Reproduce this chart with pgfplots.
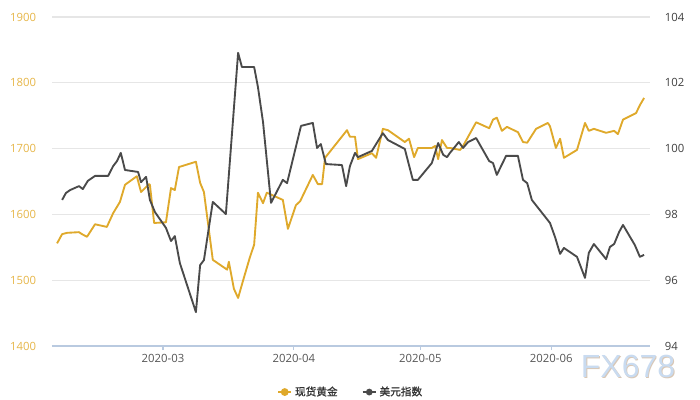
\documentclass[border=0pt]{standalone}
\usepackage{fontspec}
\setmainfont{Open Sans}
\newfontfamily\cjk[FakeBold=1.2]{Noto Sans CJK SC}
\newfontfamily\wm{Liberation Sans}
\usepackage{pgfplots}
\pgfplotsset{compat=1.18}
\definecolor{gold}{HTML}{DFA92B}
\definecolor{usd}{HTML}{4A4A4A}
\definecolor{goldlab}{HTML}{E6B649}
\definecolor{gridc}{HTML}{E6E6E6}
\definecolor{axisc}{HTML}{B9CAE0}
\definecolor{xlab}{HTML}{555555}
\definecolor{wmblue}{HTML}{C9DBF0}
\definecolor{wmshadow}{HTML}{D9C7B5}
\pgfplotsset{
  base/.style={
    scale only axis, width=448.5pt, height=246.75pt,
    at={(0,0)}, anchor=south west,
    xmin=-26.3, xmax=115.4,
    /pgf/number format/assume math mode=true,
    /pgf/number format/1000 sep={},
    tick label style={font=\fontsize{8.5}{10}\selectfont},
  }
}
\begin{document}
\begin{tikzpicture}
\useasboundingbox (-39pt,-40.5pt) rectangle (486pt,259.5pt);
\begin{axis}[base,
  ymin=1400, ymax=1900, ytick={1400,1500,...,1900},
  axis x line*=bottom, axis y line*=left,
  x axis line style={draw=axisc, line width=0.8pt, -},
  y axis line style={draw=none},
  ytick style={draw=none},
  xtick={0,31,61,92},
  xticklabels={2020-03,2020-04,2020-05,2020-06},
  xtick style={draw=axisc, line width=0.8pt},
  xtick align=outside, major tick length=3pt,
  xticklabel style={text=xlab},
  yticklabel style={text=goldlab, xshift=-8.4pt},
  ymajorgrids, grid style={draw=gridc, line width=0.8pt},
]
\addplot[gold, line width=1.4pt, line join=round] coordinates {
(-25.1,1556) (-23.9,1570) (-22.7,1572) (-19.9,1573) (-19.2,1570) (-18.0,1566)
(-16.1,1585) (-13.3,1581) (-11.8,1602) (-10.2,1619) (-9.0,1645) (-6.2,1658)
(-5.2,1634) (-3.3,1646) (-3.1,1645) (-2.1,1587) (0.7,1588) (1.9,1640) (2.8,1637)
(3.8,1672) (7.8,1680) (8.8,1648) (9.7,1634) (11.8,1531) (15.2,1516) (15.6,1528)
(16.8,1487) (17.8,1473) (19.0,1500) (20.6,1535) (21.6,1554) (22.5,1633) (23.7,1617)
(24.6,1633) (28.4,1622) (29.6,1578) (31.5,1614) (32.5,1620) (35.5,1660) (36.7,1646)
(37.7,1646) (38.4,1686) (43.6,1728) (44.3,1718) (45.5,1718) (46.2,1684) (49.5,1693)
(50.5,1686) (52.1,1730) (53.3,1728) (57.3,1710) (58.3,1715) (59.5,1687) (60.4,1701)
(63.7,1701) (64.5,1704) (65.2,1684) (66.1,1713) (67.3,1701) (68.0,1701) (70.4,1698)
(71.1,1704) (74.2,1740) (77.3,1731) (78.2,1744) (79.1,1747) (80.3,1727) (81.5,1733)
(84.1,1725) (85.3,1710) (86.3,1709) (88.4,1730) (91.2,1739) (91.7,1734) (93.1,1701)
(94.1,1715) (95.0,1686) (98.1,1698) (100.0,1739) (100.9,1727) (102.1,1730)
(105.0,1724) (106.9,1727) (107.8,1722) (109.0,1744) (112.1,1754) (113.0,1766) (114.0,1777)
};
\end{axis}
\begin{axis}[base,
  ymin=94, ymax=104, ytick={94,96,...,104},
  hide x axis, axis y line*=right,
  y axis line style={draw=none},
  ytick style={draw=none},
  yticklabel style={text=black!75, xshift=7.7pt},
  legend style={at={(0.5,-0.14)}, anchor=center, draw=none, fill=none,
    font=\cjk\fontsize{8}{9.5}\selectfont, text=black!80,
    /tikz/every even column/.append style={column sep=16pt}},
  legend columns=2,
  legend image code/.code={\draw[mark repeat=2,mark phase=2,#1] plot coordinates {(0pt,0pt)(5pt,0pt)(10pt,0pt)};},
]
\addlegendimage{gold, line width=1.4pt, mark=*, mark size=2.2pt}
\addlegendentry{现货黄金}
\addlegendimage{usd, line width=1.4pt, mark=*, mark size=1.8pt}
\addlegendentry{美元指数}
\addplot[usd, line width=1.4pt, line join=round, forget plot] coordinates {
(-23.9,98.44) (-23.0,98.65) (-22.0,98.74) (-19.9,98.86) (-19.0,98.77) (-17.8,99.02)
(-16.1,99.17) (-13.0,99.17) (-11.8,99.47) (-10.9,99.62) (-10.0,99.87) (-9.0,99.35)
(-5.9,99.29) (-5.2,98.98) (-4.0,99.14) (-3.1,98.44) (-1.9,98.07) (0.7,97.59)
(1.9,97.19) (2.8,97.34) (4.0,96.52) (7.8,95.03) (8.8,96.46) (9.7,96.61) (11.8,98.38)
(14.9,98.01) (17.8,102.91) (18.7,102.48) (21.6,102.48) (22.5,101.87) (23.7,100.81)
(25.6,98.35) (28.4,99.05) (29.4,98.95) (32.7,100.69) (35.5,100.78) (36.5,100.02)
(37.4,100.14) (38.6,99.53) (42.4,99.50) (43.4,98.86) (44.3,99.47) (45.5,99.87)
(46.2,99.74) (49.5,99.93) (52.1,100.47) (53.3,100.26) (57.3,99.99) (59.2,99.05)
(60.4,99.05) (63.7,99.56) (65.2,100.17) (66.4,99.81) (67.3,99.74) (68.0,99.87)
(70.1,100.20) (71.1,100.02) (72.3,100.20) (74.2,100.32) (77.3,99.62) (78.2,99.56)
(79.1,99.20) (81.3,99.78) (84.1,99.78) (85.3,99.05) (86.3,98.95) (87.4,98.44)
(91.7,97.74) (92.9,97.31) (94.1,96.80) (95.0,96.98) (98.1,96.71) (100.0,96.07)
(100.9,96.83) (102.1,97.10) (105.0,96.64) (105.9,97.01) (106.9,97.10) (108.1,97.47)
(109.0,97.68) (111.8,97.07) (113.0,96.71) (114.0,96.77)
};
\end{axis}
\node[font=\wm\fontsize{24}{24}\selectfont, text=wmshadow] at (432.7pt,-16.2pt) {FX678};
\node[font=\wm\fontsize{24}{24}\selectfont, text=wmblue] at (432pt,-15.5pt) {FX678};
\end{tikzpicture}
\end{document}
